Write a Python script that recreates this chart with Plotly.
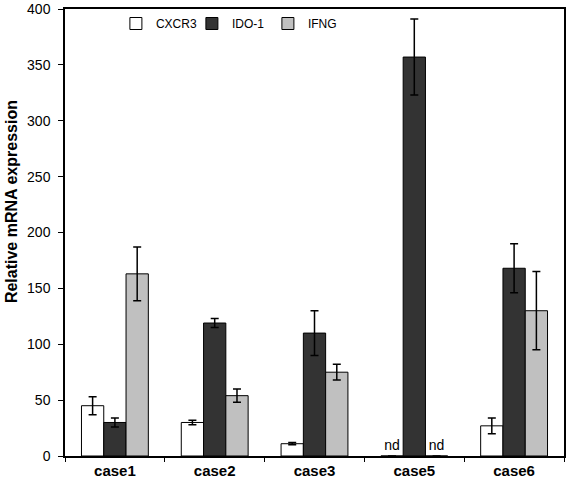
import plotly.graph_objects as go

categories = ["case1", "case2", "case3", "case5", "case6"]
cxcr3 = [45, 30, 11, 0, 27]
cxcr3_err = [8, 2, 1, 0, 7]
ido1 = [30, 119, 110, 357, 168]
ido1_err = [4, 4, 20, 34, 22]
ifng = [163, 54, 75, 0, 130]
ifng_err = [24, 6, 7, 0, 35]
nd_labels_cxcr3 = ["", "", "", "nd", ""]
nd_labels_ifng = ["", "", "", "nd", ""]
y_ticks = [0, 50, 100, 150, 200, 250, 300, 350, 400]
y_title = "Relative mRNA expression"

FONT = "Liberation Sans, Arial, sans-serif"

def err(v):
    return dict(type="data", array=v, visible=True, color="black", thickness=1.5, width=4)

fig = go.Figure()
fig.add_trace(go.Bar(name="CXCR3", x=categories, y=cxcr3, error_y=err(cxcr3_err),
                     marker=dict(color="white", line=dict(color="black", width=1)),
                     text=nd_labels_cxcr3, textposition="outside", cliponaxis=False,
                     textfont=dict(family=FONT, size=14, color="black")))
fig.add_trace(go.Bar(name="IDO-1", x=categories, y=ido1, error_y=err(ido1_err),
                     marker=dict(color="#333333", line=dict(color="black", width=1))))
fig.add_trace(go.Bar(name="IFNG", x=categories, y=ifng, error_y=err(ifng_err),
                     marker=dict(color="#c0c0c0", line=dict(color="black", width=1)),
                     text=nd_labels_ifng, textposition="outside", cliponaxis=False,
                     textfont=dict(family=FONT, size=14, color="black")))

fig.update_layout(
    width=567, height=481,
    margin=dict(l=65, r=3, t=9, b=25, autoexpand=False),
    paper_bgcolor="white", plot_bgcolor="white",
    barmode="group", bargap=0.33, bargroupgap=0,
    font=dict(family=FONT, size=14, color="black"),
    showlegend=True,
    legend=dict(orientation="h", x=0.102, y=1.0, xanchor="left", yanchor="top",
                font=dict(size=12), bgcolor="rgba(0,0,0,0)", itemwidth=30,
                entrywidth=31, entrywidthmode="pixels", tracegroupgap=0),
    xaxis=dict(showline=True, linecolor="black", linewidth=1.5, mirror=True,
               ticks="outside", tickson="boundaries", ticklen=4, tickcolor="black",
               tickfont=dict(size=15, family=FONT, weight="bold"), showgrid=False),
    yaxis=dict(range=[0, 400], tickvals=y_ticks, showline=True, linecolor="black",
               linewidth=1.5, mirror=True, ticks="outside", ticklen=5, tickcolor="black",
               showgrid=False, zeroline=False, tickfont=dict(size=14),
               ticklabelstandoff=5),
    annotations=[dict(text="<b>" + y_title + "</b>", xref="paper", yref="paper",
                      x=0, y=0.568, xanchor="center", yanchor="middle", xshift=-54,
                      textangle=-90, showarrow=False, font=dict(size=16))],
)

fig.write_html("out.html", config={"displayModeBar": False},
               post_script="document.body.style.margin='0px';")
